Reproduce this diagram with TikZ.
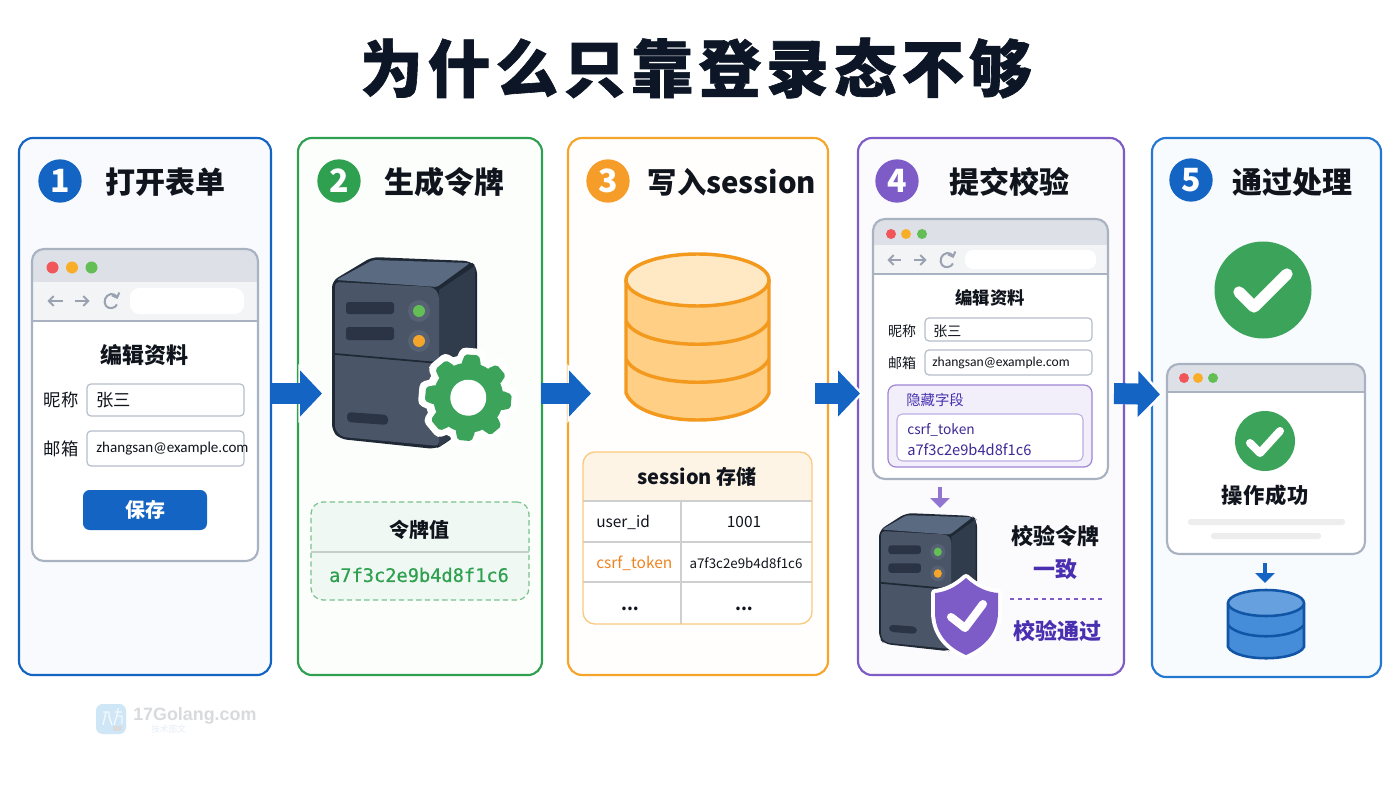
\documentclass[tikz,border=0pt]{standalone}
\usepackage{fontspec}
\setmainfont{Noto Sans CJK SC}
\newfontfamily\monof[FakeBold=0.5]{DejaVu Sans Mono}
\newfontfamily\latf{Carlito}
\newfontfamily\wmf{Liberation Sans}
\usetikzlibrary{arrows.meta,calc}
\definecolor{ink}{HTML}{10141C}
\definecolor{titleink}{HTML}{0C1626}
\definecolor{blueA}{HTML}{1464C4}
\definecolor{blueB}{HTML}{2478D2}
\definecolor{greenA}{HTML}{2FA050}
\definecolor{greenG}{HTML}{3BA45A}
\definecolor{orangeA}{HTML}{F5A52A}
\definecolor{orangeB}{HTML}{F39A1E}
\definecolor{orangeC}{HTML}{FFCF85}
\definecolor{orangeD}{HTML}{FFE8C4}
\definecolor{orangeT}{HTML}{EE8420}
\definecolor{purpleA}{HTML}{7E5CC8}
\definecolor{purpleT}{HTML}{4A30B0}
\definecolor{chromeB}{HTML}{A9B2C1}
\definecolor{navc}{HTML}{9AA2B1}
\definecolor{dotR}{HTML}{F0565A}
\definecolor{dotY}{HTML}{F9AE2A}
\definecolor{dotG}{HTML}{62BE55}
\definecolor{srvO}{HTML}{1F2835}
\definecolor{srvT}{HTML}{5A6A80}
\definecolor{srvR}{HTML}{303B4C}
\definecolor{srvF}{HTML}{4A5567}
\definecolor{srvB}{HTML}{2A3444}
\definecolor{srvH}{HTML}{566173}
\definecolor{wmIcon}{HTML}{CFE6F6}
\definecolor{wmText}{HTML}{D8DADD}
\definecolor{wmSub}{HTML}{E6EEF6}
\newcommand\fs[1]{\fontsize{#1}{#1}\selectfont}
\newcommand\rbox[6][]{%
  \pgfmathsetmacro\rw{(#5-#3)*0.75}\pgfmathsetmacro\rh{(#6-#4)*0.75}%
  \pgfmathsetmacro\rx{(#5+#3)/2}\pgfmathsetmacro\ry{(#6+#4)/2}%
  \node[inner sep=0pt,outer sep=0pt,minimum width=\rw pt,minimum height=\rh pt,#1] (#2) at (\rx,\ry) {};}
\newcommand\lbl[5][]{\node[inner sep=0pt,text=ink,#1] (#2) at (#3,#4) {#5};}
\newcommand\llbl[5][]{\node[inner sep=0pt,anchor=west,text=ink,#1] (#2) at (#3,#4) {#5};}
% browser: name x1 y1 x2 y2 ytitle ytoolbar(= ytitle if none)
\newcommand\browser[7]{%
  \rbox[fill=white,rounded corners=9pt]{#1}{#2}{#3}{#4}{#5}
  \begin{scope}
    \clip[rounded corners=9pt] (#2,#3) rectangle (#4,#5);
    \fill[fill=chromeB!14!white] (#2,#3) rectangle (#4,#7);
    \fill[fill=chromeB!40!white] (#2,#3) rectangle (#4,#6);
    \draw[chromeB,line width=1.5pt] (#2,#7) -- (#4,#7);
  \end{scope}
  \rbox[draw=chromeB,line width=1.6pt,rounded corners=9pt]{#1f}{#2}{#3}{#4}{#5}}
\newcommand\wdots[5]{% x1 x2 x3 y r
  \fill[fill=dotR] (#1,#4) circle (#5);
  \fill[fill=dotY] (#2,#4) circle (#5);
  \fill[fill=dotG] (#3,#4) circle (#5);}
\newcommand\navs[5]{% x1 x2 x3 y halfsize
  \draw[nav,{Straight Barb[length=3.6pt,width=7.5pt]}-] (#1-#5,#4) -- (#1+#5,#4);
  \draw[nav,-{Straight Barb[length=3.6pt,width=7.5pt]}] (#2-#5,#4) -- (#2+#5,#4);
  \begin{scope}[shift={(#3,#4)}]
    \draw[nav,-{Straight Barb[length=3pt,width=6pt]}] (6,3.5) .. controls (4,7.5) and (-2,8.5) .. (-5,5) .. controls (-8,1) and (-6,-6) .. (0,-7) .. controls (2.5,-7) and (5,-6) .. (6.5,-2);
  \end{scope}}
\newcommand\serverico[4]{% shiftx shifty xs ys
  \begin{scope}[shift={(#1,#2)},xscale=#3,yscale=#4]
    \fill[fill=srvO,rounded corners=5pt] (0,24)--(40,0)--(138,4)--(145,10)--(145,163)--(111,188)--(103,192)--(8,182)--(0,174)--cycle;
    \fill[fill=srvT,rounded corners=2pt] (4,23)--(41,3)--(138,6)--(105,30)--cycle;
    \fill[fill=srvR] (107,33)--(143,9)--(143,163)--(107,190)--cycle;
    \fill[fill=srvF,rounded corners=3pt] (3,25)--(101,30)--(107,37)--(107,189)--(10,180)--(3,173)--cycle;
    \draw[srvO,line width=1.3pt] (3,97) -- (107,106);
    \fill[fill=srvB,rounded corners=2pt] (14,45) rectangle (62,57);
    \fill[fill=srvB,rounded corners=2pt] (14,70) rectangle (62,83);
    \fill[fill=srvB,rounded corners=3pt] (15,155)--(56,158)--(56,168)--(15,165)--cycle;
    \fill[fill=srvH] (87,54) circle (11);
    \fill[fill=srvH] (87,84) circle (11);
    \fill[fill=dotG] (87,54) circle (6);
    \fill[fill=orangeA] (87,84) circle (6);
  \end{scope}}
\tikzset{
  panel/.style={line width=1.6pt,rounded corners=10.5pt},
  nav/.style={navc,line width=1.5pt},
  field/.style={draw=chromeB!85!white,line width=.9pt,fill=white,rounded corners=3pt},
  badge/.style={circle,inner sep=0pt,minimum size=32.5pt,text=white,font=\fs{24}\bfseries},
  head/.style={font=\fs{22.5}\bfseries},
  blockhalo/.style={white,line width=15.75pt,-{Triangle[length=20pt,width=43pt]}},
  blockarrow/.style={blueA,line width=15.75pt,-{Triangle[length=16.5pt,width=33.75pt]}},
  minihead/.style={line width=3pt,-{Triangle[length=7.5pt,width=14.5pt]}},
  check/.style={white,line cap=round,line join=round},
}
\begin{document}
\begin{tikzpicture}[x=0.75pt,y=-0.75pt]
\useasboundingbox (0,0) rectangle (1400,788);
\fill[fill=white] (0,0) rectangle (1400,788);
% title
\lbl[text=titleink,font=\fs{47}\bfseries]{title}{696}{68}{\addfontfeature{LetterSpace=8,FakeBold=1}为什么只靠登录态不够}
% panels
\rbox[panel,draw=blueA,fill=blueA!3!white]{p1}{19}{138}{271}{675}
\rbox[panel,draw=greenA,fill=greenA!1.5!white]{p2}{298}{138}{542}{675}
\rbox[panel,draw=orangeA,fill=orangeA!1.5!white]{p3}{568}{138}{828}{675}
\rbox[panel,draw=purpleA,fill=purpleA!3!white]{p4}{858}{138}{1124}{675}
\rbox[panel,draw=blueB,fill=blueB!3!white]{p5}{1152}{138}{1381}{677}
% badges + heads
\node[badge,fill=blueA] (b1) at (60,181) {1};
\node[badge,fill=greenA] (b2) at (339,181) {2};
\node[badge,fill=orangeA!95!red] (b3) at (608,181) {3};
\node[badge,fill=purpleA] (b4) at (897,181) {4};
\node[badge,fill=blueA] (b5) at (1191,180) {5};
\lbl[head]{h1}{165}{182}{打开表单}
\lbl[head]{h2}{444.5}{182}{生成令牌}
\lbl[head,font=\fs{22}\bfseries]{h3}{732}{182}{写入session}
\lbl[head]{h4}{1009}{182}{提交校验}
\lbl[head]{h5}{1292}{182}{通过处理}
% ---- panel 1 browser
\browser{w1}{32}{249}{258}{561}{282}{321}
\wdots{52.5}{72}{91.5}{267.5}{6}
\navs{55}{82}{111}{301}{7.5}
\rbox[fill=white,rounded corners=7pt]{addr1}{130}{288}{244}{314}
\lbl[font=\fs{16.5}\bfseries]{t1}{144}{355}{编辑资料}
\lbl[font=\fs{13}]{l11}{61}{400}{昵称}
\rbox[field]{i11}{87}{384}{244}{416}
\llbl[font=\fs{13}]{v11}{96}{400}{张三}
\lbl[font=\fs{13}]{l12}{61}{449}{邮箱}
\rbox[field]{i12}{87}{431}{244}{466}
\llbl[font=\fs{11.3}\latf]{v12}{96}{449}{zhangsan@example.com}
\rbox[fill=blueA,rounded corners=5pt]{btn}{83}{490}{207}{530}
\lbl[text=white,font=\fs{15}\bfseries]{btnt}{145}{510}{保存}
% ---- panel 2
\serverico{332}{257}{1}{1}
\begin{scope}[shift={(468.3,397.7)},rotate=-5]
  \fill[fill=white] (0,0) circle (43);
  \foreach \a in {0,45,...,315} {\draw[white,line width=10pt,rotate=\a,line join=round] (-9,-36)--(-6.5,-43)--(6.5,-43)--(9,-36)--cycle;}
  \fill[fill=white] (0,0) circle (42);
  \fill[fill=greenG] (0,0) circle (35);
  \foreach \a in {0,45,...,315} {\fill[fill=greenG,rotate=\a,rounded corners=1.5pt] (-10,-33)--(-7,-43)--(7,-43)--(10,-33)--cycle;}
  \fill[fill=white] (0,0) circle (18);
\end{scope}
\rbox[fill=greenA!7!white,draw=greenA!65!white,line width=.9pt,dash pattern=on 4pt off 2.5pt,rounded corners=9pt]{tok}{311}{502}{529}{600}
\draw[greenA!30!gray!40!white,line width=1.2pt] (tok.west |- 0,552) -- (tok.east |- 0,552);
\lbl[font=\fs{15}\bfseries]{tokh}{419}{530}{令牌值}
\lbl[text=greenA,font=\fs{14}\monof]{tokv}{419}{575}{a7f3c2e9b4d8f1c6}
% ---- panel 3 cylinder
\begin{scope}[line width=2.6pt,line join=round]
  \filldraw[draw=orangeB,fill=orangeC] (626,280) -- (626,393) .. controls (640,429) and (755,429) .. (769,393) -- (769,280) -- cycle;
  \draw[orangeB] (626,321) .. controls (640,352) and (755,352) .. (769,321);
  \draw[orangeB] (626,359) .. controls (640,390) and (755,390) .. (769,359);
  \filldraw[draw=orangeB,fill=orangeD] (697.5,280) ellipse [x radius=71.5,y radius=26];
\end{scope}
% table
\rbox[fill=white,rounded corners=9pt]{tab}{583}{452}{812}{624}
\begin{scope}
  \clip[rounded corners=9pt] (583,452) rectangle (812,624);
  \fill[fill=orangeA!12!white] (583,452) rectangle (812,501);
  \draw[gray!38!white,line width=1pt] (583,501) -- (812,501) (583,542) -- (812,542) (583,582) -- (812,582) (681,501) -- (681,624);
\end{scope}
\rbox[draw=orangeA!60!white,line width=1pt,rounded corners=9pt]{tabf}{583}{452}{812}{624}
\lbl[font=\fs{15}\bfseries]{tabh}{697}{477}{session 存储}
\llbl[font=\fs{11.6}]{c11}{596}{522}{user\_id}
\lbl[font=\fs{11.6}]{c12}{744}{522}{1001}
\llbl[text=orangeT,font=\fs{11.6}]{c21}{596}{563}{csrf\_token}
\lbl[font=\fs{10}]{c22}{746}{563}{a7f3c2e9b4d8f1c6}
\lbl[font=\fs{12.5}\bfseries]{c31}{630}{609}{...}
\lbl[font=\fs{12.5}\bfseries]{c32}{744}{609}{...}
% ---- panel 4 browser
\browser{w4}{873}{219}{1108}{479}{245}{274}
\wdots{891}{906}{922}{234}{5}
\navs{894}{920}{947}{260}{6.5}
\rbox[fill=white,rounded corners=6pt]{addr4}{965}{250}{1096}{269}
\lbl[font=\fs{13}\bfseries]{t4}{990}{298}{编辑资料}
\lbl[font=\fs{10.5}]{l41}{902}{331}{昵称}
\rbox[field]{i41}{925}{318}{1092}{341}
\llbl[font=\fs{10.5}]{v41}{933}{331}{张三}
\lbl[font=\fs{10.5}]{l42}{902}{363}{邮箱}
\rbox[field]{i42}{925}{350}{1092}{375}
\llbl[font=\fs{10.2}\latf]{v42}{932}{363}{zhangsan@example.com}
\rbox[draw=purpleA!75!white,line width=.9pt,fill=purpleA!10!white,rounded corners=6pt]{hid}{888}{385}{1092}{467}
\llbl[text=purpleT,font=\fs{10.8}]{hidt}{906}{400}{隐藏字段}
\rbox[draw=purpleA!50!white,line width=.8pt,fill=white,rounded corners=4pt]{hidi}{897}{414}{1083}{461}
\llbl[text=purpleT!85!black,font=\fs{10.3}]{hid1}{907}{430}{csrf\_token}
\llbl[text=purpleT!85!black,font=\fs{11}]{hid2}{907}{450}{a7f3c2e9b4d8f1c6}
% ---- panel 4 server
\serverico{879}{513}{0.676}{0.72}
\coordinate (sv4) at (940,508);
\draw[minihead,purpleA!85!white] (w4.south -| sv4) ++(0,8) -- (sv4);
\draw[white,line width=6pt,line join=round] (966,578) .. controls (955,588) and (945,592) .. (935,593) -- (935,612) .. controls (935,635) and (950,648) .. (966,655) .. controls (982,648) and (998,635) .. (998,612) -- (998,593) .. controls (987,592) and (977,588) .. (966,578) -- cycle;
\fill[fill=purpleA,line join=round] (966,578) .. controls (955,588) and (945,592) .. (935,593) -- (935,612) .. controls (935,635) and (950,648) .. (966,655) .. controls (982,648) and (998,635) .. (998,612) -- (998,593) .. controls (987,592) and (977,588) .. (966,578) -- cycle;
\draw[check,line width=6pt] (951,617) -- (965,628) -- (983,604);
\lbl[font=\fs{16.5}\bfseries]{v1}{1055}{536}{校验令牌}
\lbl[text=purpleT,font=\fs{16.5}\bfseries]{v2}{1055}{569}{一致}
\draw[purpleA,line width=.9pt,dashed] (1010,599) -- (1105,599);
\lbl[text=purpleT,font=\fs{16.5}\bfseries]{v3}{1057}{631}{校验通过}
% ---- panel 5
\fill[fill=greenG] (1263,290) circle (48.5);
\draw[check,line width=8.5pt] (1239,292) -- (1254,307) -- (1287,274);
\browser{w5}{1167}{364}{1365}{554}{392}{392}
\wdots{1184}{1198}{1213}{378}{5}
\fill[fill=greenG] (1265,441) circle (30);
\draw[check,line width=6pt] (1250,443) -- (1260,453) -- (1280,431);
\lbl[font=\fs{16}\bfseries]{ok}{1265}{495}{\addfontfeature{LetterSpace=4}操作成功}
\fill[fill=gray!14!white,rounded corners=2pt] (1188,519) rectangle (1345,525);
\fill[fill=gray!14!white,rounded corners=2pt] (1211,533) rectangle (1321,539);
\coordinate (db5) at (1265,583);
\draw[minihead,blueA] (w5.south -| db5) ++(0,9) -- (db5);
\begin{scope}[line width=1.9pt,line join=round]
  \filldraw[draw=blueA!85!black,fill=blueB!85!white] (1228,603) -- (1228,647) .. controls (1236,662) and (1296,662) .. (1304,647) -- (1304,603) -- cycle;
  \draw[blueA!85!black] (1228,625) .. controls (1240,640) and (1292,640) .. (1304,625);
  \filldraw[draw=blueA!85!black,fill=blueB!70!white] (1266,603) ellipse [x radius=38,y radius=13];
\end{scope}
% ---- block arrows
\draw[blockhalo] ($(p1.east)+(0,-13)$) -- ($(p2.west)+(27,-13)$);
\draw[blockarrow] ($(p1.east)+(0,-13)$) -- ($(p2.west)+(24,-13)$);
\draw[blockhalo] ($(p2.east)+(-1,-13)$) -- ($(p3.west)+(26,-13)$);
\draw[blockarrow] ($(p2.east)+(-1,-13)$) -- ($(p3.west)+(23,-13)$);
\draw[blockhalo] ($(p3.east)+(-13,-13)$) -- ($(p4.west)+(5,-13)$);
\draw[blockarrow] ($(p3.east)+(-13,-13)$) -- ($(p4.west)+(2,-13)$);
\draw[blockhalo] ($(p4.east)+(-10,-13)$) -- ($(p5.west)+(11,-13)$);
\draw[blockarrow] ($(p4.east)+(-10,-13)$) -- ($(p5.west)+(8,-13)$);
% ---- watermark
\rbox[fill=wmIcon,rounded corners=5pt]{wm}{96}{704}{126}{734}
\draw[white!75!wmIcon,line width=1pt] (103,712) -- (109,712) -- (109,716) (106,712) -- (103,725) (109,716) -- (112,725) (115,712) -- (122,712) (118,708) -- (118,712) (118,712) -- (114,725) (118,716) -- (122,716) -- (122,724);
\fill[fill=wmText] (112.5,726) rectangle (121.5,730.5);
\llbl[text=wmText,font=\fs{13.4}\wmf\bfseries]{wmt}{133}{716}{17Golang.com}
\llbl[text=wmSub,font=\fs{6.5}]{wms}{151}{729}{技术图文}
\end{tikzpicture}
\end{document}
